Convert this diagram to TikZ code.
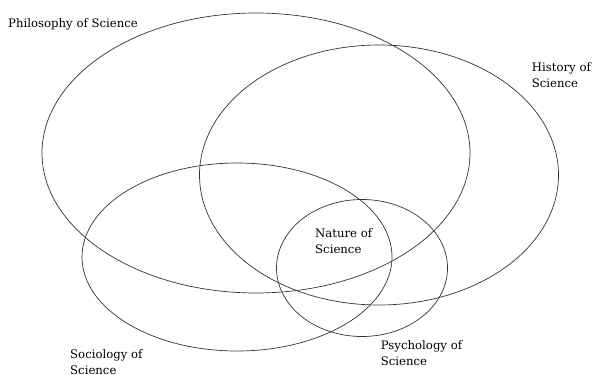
\documentclass[tikz,border=0pt]{standalone}
\usepackage{fontspec}
\setmainfont{DejaVu Serif}
\usetikzlibrary{shapes.geometric}
\tikzset{
	field/.style={ellipse, draw=black!80, line width=0.7pt, inner sep=0pt},
	lbl/.style={anchor=base west, align=left, inner sep=0pt,
		font=\fontsize{11.7}{15.8}\selectfont},
}

\begin{document}
\begin{tikzpicture}[x=1pt, y=-1pt]
	\useasboundingbox (0,0) rectangle (593,374);
	% the four fields
	\node[field, minimum width=428pt, minimum height=280pt] (philo) at (256,153) {};
	\node[field, minimum width=359pt, minimum height=260pt] (hist) at (379,175) {};
	\node[field, minimum width=310pt, minimum height=188pt] (socio) at (237,257) {};
	\node[field, minimum width=171pt, minimum height=137pt] (psych) at (362,268) {};
	% labels (base = last line)
	\node[lbl] (philotxt) at (8,27.3) {Philosophy of Science};
	\node[lbl] (histtxt) at (531.7,87.3) {History of\\Science};
	\node[lbl] (naturetxt) at (315,253.1) {Nature of\\Science};
	\node[lbl] (sociotxt) at (70,374.1) {Sociology of\\Science};
	\node[lbl] (psychtxt) at (380.7,365.1) {Psychology of\\Science};
\end{tikzpicture}
\end{document}
